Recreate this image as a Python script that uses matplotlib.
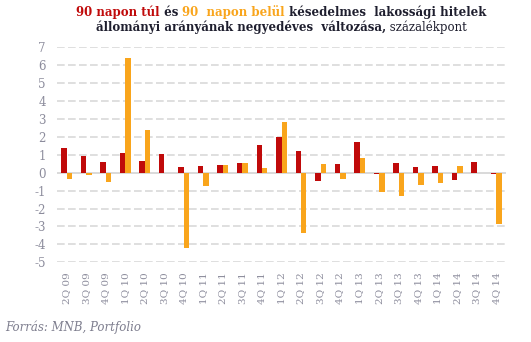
import matplotlib
matplotlib.use("Agg")
import matplotlib.pyplot as plt
import numpy as np

categories = ["2Q 09", "3Q 09", "4Q 09", "1Q 10", "2Q 10", "3Q 10", "4Q 10", "1Q 11",
              "2Q 11", "3Q 11", "4Q 11", "1Q 12", "2Q 12", "3Q 12", "4Q 12", "1Q 13",
              "2Q 13", "3Q 13", "4Q 13", "1Q 14", "2Q 14", "3Q 14", "4Q 14"]
over90 = [1.36, 0.91, 0.58, 1.08, 0.63, 1.03, 0.30, 0.35, 0.41, 0.52, 1.53,
          1.98, 1.19, -0.49, 0.47, 1.70, -0.09, 0.52, 0.30, 0.35, -0.43, 0.58, -0.09]
within90 = [-0.35, -0.13, -0.52, 6.40, 2.37, 0.0, -4.22, -0.75, 0.41, 0.52, 0.24,
            2.82, -3.38, 0.47, -0.35, 0.80, -1.10, -1.31, -0.71, -0.60, 0.35, 0.0, -2.84]
yticks = list(range(-5, 8))

RED = "#C00A0A"
ORANGE = "#F9A51C"
DARK = "#1E1E2E"
GRID = "#D9D9D9"
TICK = "#8C8C9C"
FONT = "DejaVu Serif"

fig = plt.figure(figsize=(5.31, 3.42), dpi=100)
ax = fig.add_axes([57/531, 1-262.3/342, (506-57)/531, (262.3-47.3)/342])

n = len(categories)
x = np.arange(n)
w = 0.28
ax.bar(x - w/2, over90, width=w, color=RED, zorder=3)
ax.bar(x + w/2, within90, width=w, color=ORANGE, zorder=3)

ax.set_xlim(-0.5, n - 0.5)
ax.set_ylim(-5, 7)
ax.set_yticks(yticks)
ax.set_yticklabels([str(t) for t in yticks], fontfamily=FONT, fontsize=8.5, color=TICK)
ax.set_xticks(x)
ax.set_xticklabels(categories, rotation=90, fontfamily=FONT, fontsize=7.5, color=TICK)
ax.tick_params(axis="both", length=0)
ax.tick_params(axis="y", pad=8)
ax.tick_params(axis="x", pad=7)
for s in ax.spines.values():
    s.set_visible(False)
for t in yticks:
    if t == 0:
        continue
    ax.axhline(t, color=GRID, lw=1.2, ls=(0, (4.6, 2.0)), zorder=1)
ax.axhline(0, color=GRID, lw=1.4, zorder=2)

# multi-coloured title
def colored_line(y, parts, size):
    renderer = fig.canvas.get_renderer()
    texts = []
    total = 0
    for s, c, wgt in parts:
        t = fig.text(0, y, s, color=c, fontweight=wgt, fontfamily=FONT, fontsize=size,
                     va="center", ha="left")
        bb = t.get_window_extent(renderer)
        texts.append((t, bb.width))
        total += bb.width
    cx = 281 / 531 * fig.bbox.width
    xpos = cx - total / 2
    for t, wd in texts:
        t.set_x(xpos / fig.bbox.width)
        xpos += wd

colored_line(1 - 12/342, [("90 napon túl", RED, "bold"), (" és ", DARK, "bold"),
                          ("90  napon belül", ORANGE, "bold"),
                          (" késedelmes  lakossági hitelek", DARK, "bold")], 8.5)
colored_line(1 - 27.5/342, [("állományi arányának negyedéves  változása,", DARK, "bold"),
                            (" százalékpont", DARK, "normal")], 8.5)

fig.text(5/531, 1 - 327/342, "Forrás: MNB, Portfolio", fontfamily=FONT, style="italic",
         fontsize=8.5, color="#7F7F8F", va="center", ha="left")

fig.savefig("out.png", dpi=100)
